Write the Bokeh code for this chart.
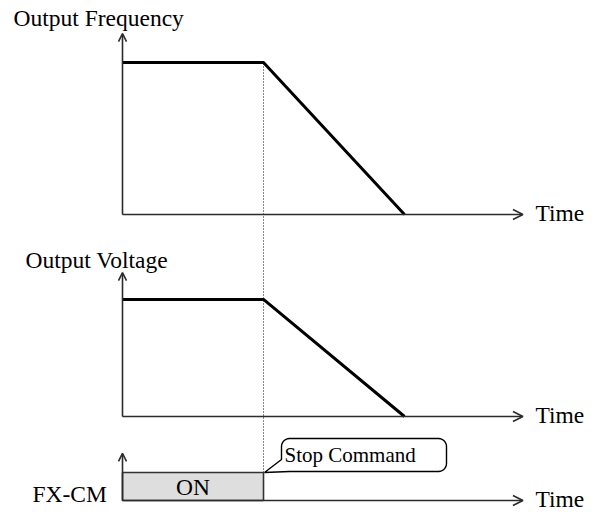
import numpy as np
from bokeh.plotting import figure
from bokeh.models import Range1d, Arrow, OpenHead, Label
from bokeh.embed import file_html
from bokeh.resources import INLINE

# ---------------- data ----------------
time = [0.0, 1.0, 2.0]          # t=1: stop command, t=2: output reaches zero
freq = [1.0, 1.0, 0.0]          # output frequency (normalised)
volt = [0.77, 0.77, 0.0]        # output voltage (normalised)
cmd_start = [0.0]
cmd_end = [1.0]
cmd_level = [1.0]               # FX-CM ON level
t_stop = 1.0
time_axis_end = 2.84
freq_axis_top = 1.19
volt_axis_top = 0.947
cmd_axis_top = 1.68
title_freq = "Output Frequency"
title_volt = "Output Voltage"
title_cmd = "FX-CM"
on_text = "ON"
stop_text = "Stop Command"
time_text = "Time"

# ---------------- layout ----------------
W, H, OFF = 596, 512, 0
X0, XPPU = 122, 141                      # image px of t=0, px per time unit
PAN = {"default": (214, 152), "volt": (416, 152), "cmd": (500, 28)}

def yr(origin, ppu):
    return Range1d(start=(origin - (OFF + H)) / ppu, end=(origin - OFF) / ppu)

def xv(px):
    return (px - X0) / XPPU

def yv(name, py):
    o, k = PAN[name]
    return (o - py) / k

def ypx(name, v):
    o, k = PAN[name]
    return o - k * v

p = figure(width=W, height=H, x_range=Range1d(xv(OFF), xv(OFF + W)),
           y_range=yr(*PAN["default"]), output_backend="svg",
           toolbar_location=None, min_border=0)
p.extra_y_ranges = {"volt": yr(*PAN["volt"]), "cmd": yr(*PAN["cmd"])}
p.axis.visible = False
p.grid.visible = False
p.outline_line_color = None
p.background_fill_color = "white"
p.border_fill_color = "white"

AX = "#2b2b2b"
FONT = "Liberation Serif"
FS = "23.5px"

# dotted stop line from top plateau down to the command box
p.segment(x0=[t_stop], x1=[t_stop], y0=cmd_level,
          y1=[yv("cmd", ypx("default", freq[1]))],
          line_color="#111111", line_width=1, line_dash="1 2", y_range_name="cmd")

# command box
p.quad(left=cmd_start, right=cmd_end, bottom=[0.0], top=cmd_level,
       fill_color="#dedede", line_color="#333333", line_width=1.6, y_range_name="cmd")

# axes
for name, top in [("default", freq_axis_top), ("volt", volt_axis_top), ("cmd", cmd_axis_top)]:
    p.add_layout(Arrow(end=OpenHead(size=10, line_width=1.6, line_color=AX),
                       x_start=0, y_start=0, x_end=time_axis_end, y_end=0,
                       line_width=1.6, line_color=AX, y_range_name=name))
    p.add_layout(Arrow(end=OpenHead(size=8, line_width=1.6, line_color=AX),
                       x_start=0, y_start=0, x_end=0, y_end=top,
                       line_width=1.6, line_color=AX, y_range_name=name))

# waveforms
p.line(time, freq, line_width=3, line_color="black")
p.line(time, volt, line_width=3, line_color="black", y_range_name="volt")

# callout (rounded box with pointer), built in px then mapped to data
bx0, bx1, by0, by1, r = 281, 446, 438, 471, 8
tip = (X0 + XPPU * t_stop + 1, ypx("cmd", cmd_level[0]))
pts = [tip, (bx0, 459), (bx0, by0 + r)]
for a in np.linspace(np.pi, 1.5 * np.pi, 8):
    pts.append((bx0 + r + r * np.cos(a), by0 + r + r * np.sin(a)))
for a in np.linspace(1.5 * np.pi, 2 * np.pi, 8):
    pts.append((bx1 - r + r * np.cos(a), by0 + r + r * np.sin(a)))
for a in np.linspace(0, 0.5 * np.pi, 8):
    pts.append((bx1 - r + r * np.cos(a), by1 - r + r * np.sin(a)))
pts.append((bx0 + 8, by1))
p.patch([xv(x) for x, _ in pts], [yv("cmd", y) for _, y in pts],
        fill_color="white", line_color="black", line_width=1.4, y_range_name="cmd")

def lab(text, x, y, name, size=FS, align="left"):
    p.add_layout(Label(x=x, y=y, text=text, text_font=FONT, text_font_size=size,
                       text_color="black", text_baseline="middle", text_align=align,
                       y_range_name=name))

lab(title_freq, xv(13), yv("default", 17), "default")
lab(title_volt, xv(25), yv("volt", 259), "volt")
lab(title_cmd, xv(32), yv("cmd", 493), "cmd")
lab(on_text, (cmd_start[0] + cmd_end[0]) / 2, cmd_level[0] / 2, "cmd", align="center")
lab(stop_text, xv(284), yv("cmd", 454), "cmd", size="21px")
for name in ["default", "volt", "cmd"]:
    lab(time_text, xv(535), yv(name, ypx(name, 0) - 2), name)

open("out.html", "w").write(file_html(p, INLINE))
